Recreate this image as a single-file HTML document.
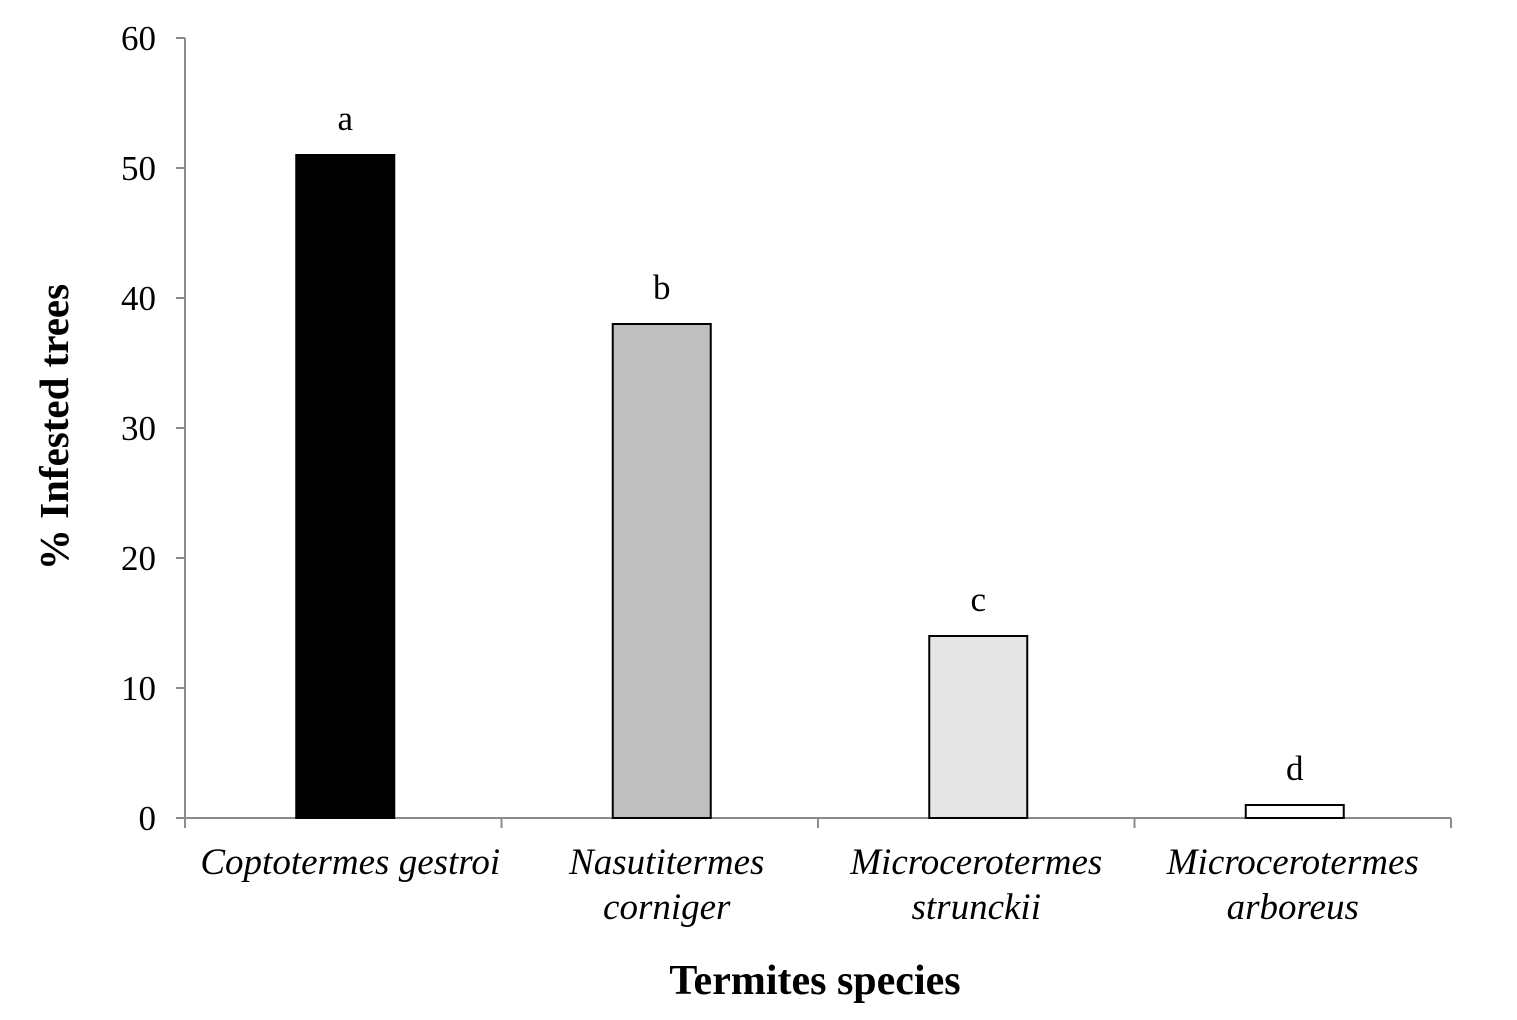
<!DOCTYPE html>
<html><head><meta charset="utf-8"><style>
html,body{margin:0;padding:0;background:#fff}
svg{display:block;font-family:"Liberation Serif",serif}
</style></head><body>
<svg id="chart" width="1517" height="1020" viewBox="0 0 1517 1020">
<g id="axes"></g><g id="bars"></g>
<text x="815" y="994" font-size="42" font-weight="bold" text-anchor="middle">Termites species</text>
<text transform="translate(68,427) rotate(-90)" font-size="41" font-weight="bold" text-anchor="middle">% Infested trees</text>
</svg>
<script>
const categories=[["Coptotermes gestroi"],["Nasutitermes","corniger"],["Microcerotermes","strunckii"],["Microcerotermes","arboreus"]];
const values=[51,38,14,1];
const letters=["a","b","c","d"];
const fills=["#000000","#bfbfbf","#e5e5e5","#ffffff"];
const yTicks=[0,10,20,30,40,50,60];
const NS="http://www.w3.org/2000/svg";
const x0=185,x1=1451,y0=818,yTop=38,yMax=60;
const y=v=>y0-(v/yMax)*(y0-yTop);
const bw=(x1-x0)/categories.length;
const xc=i=>x0+bw*(i+0.5);
function mk(tag,attrs,parent){const e=document.createElementNS(NS,tag);for(const k in attrs)e.setAttribute(k,attrs[k]);parent.appendChild(e);return e;}
const axes=document.getElementById('axes'),bars=document.getElementById('bars');
let l=mk('line',{x1:x0,y1:yTop,x2:x0,y2:y0,stroke:'#8c8c8c','stroke-width':2},axes);


l=mk('line',{x1:x0,y1:y0,x2:x1,y2:y0,stroke:'#8c8c8c','stroke-width':2},axes);


yTicks.forEach(t=>{
 const tk=mk('line',{x1:x0-9,y1:y(t),x2:x0,y2:y(t),stroke:'#8c8c8c','stroke-width':2},axes);
 
 
 const tx=mk('text',{x:156,y:y(t)+12,'font-size':35,'text-anchor':'end'},axes);
 tx.textContent=t;
 
 
});
for(let i=0;i<=categories.length;i++){
 const tk=mk('line',{x1:x0+bw*i,y1:y0,x2:x0+bw*i,y2:y0+10,stroke:'#8c8c8c','stroke-width':2},axes);
 
 
}
values.forEach((v,i)=>{
 const r=mk('rect',{x:xc(i)-47,y:y(v),width:98,height:y0-y(v),fill:fills[i],stroke:'#000','stroke-width':2},bars);
 
 
 const t=mk('text',{x:xc(i)+2,y:y(v)-25,'font-size':35,'text-anchor':'middle'},bars);
 t.textContent=letters[i];
 
 
 categories[i].forEach((s,j)=>{
  const c=mk('text',{x:xc(i)+(i<2?7:0),y:874+j*45,'font-size':37,'font-style':'italic','text-anchor':'middle'},bars);
  c.textContent=s;
  
  
 });
});
</script>
</body></html>
